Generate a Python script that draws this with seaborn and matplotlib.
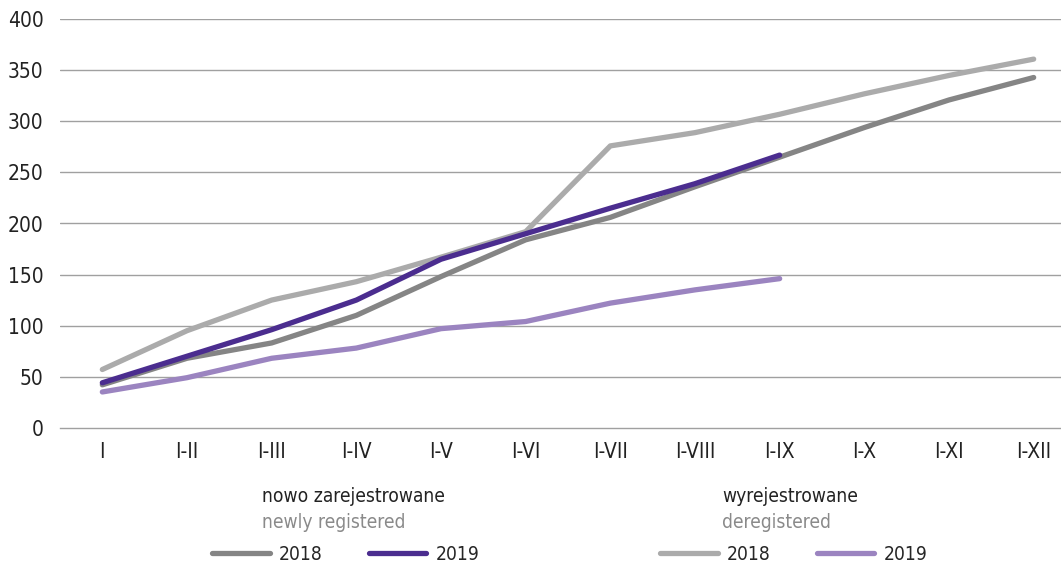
import pandas as pd
import matplotlib
matplotlib.use("Agg")
import matplotlib.pyplot as plt
import seaborn as sns
from matplotlib.ticker import FixedLocator

# data
periods = ["I", "I-II", "I-III", "I-IV", "I-V", "I-VI", "I-VII", "I-VIII",
           "I-IX", "I-X", "I-XI", "I-XII"]
new_2018 = [42, 68, 83, 110, 148, 184, 206, 236, 265, 294, 321, 343]
new_2019 = [44, 70, 96, 125, 165, 190, 215, 239, 267]
dereg_2018 = [57, 95, 125, 143, 167, 192, 276, 289, 307, 327, 345, 361]
dereg_2019 = [35, 49, 68, 78, 97, 104, 122, 135, 146]

series = {
    "dereg_2018": dereg_2018,
    "new_2018": new_2018,
    "new_2019": new_2019,
    "dereg_2019": dereg_2019,
}
colors = {
    "new_2018": "#858585",
    "new_2019": "#4b2d8f",
    "dereg_2018": "#ababab",
    "dereg_2019": "#9b84c0",
}

rows = []
for name, vals in series.items():
    for i, v in enumerate(vals):
        rows.append({"series": name, "pos": i, "value": v})
df = pd.DataFrame(rows)

sns.set_style("white")
plt.rcParams["font.family"] = ["DejaVu Sans"]
plt.rcParams["font.stretch"] = "condensed"

fig = plt.figure(figsize=(10.61, 5.64), dpi=100)
ax = fig.add_axes([60 / 1061, 136.3 / 564, 1016 / 1061, 408.4 / 564])

sns.lineplot(data=df, x="pos", y="value", hue="series", palette=colors,
             hue_order=list(series.keys()), linewidth=3.8, sort=False,
             legend=False, ax=ax, solid_capstyle="round")

ax.set_xlim(-0.5, len(periods) - 0.5)
ax.set_ylim(0, 400)
ax.set_yticks(range(0, 401, 50))
ax.set_xticks(range(len(periods)))
ax.set_xticklabels(periods)
ax.xaxis.set_minor_locator(FixedLocator([i - 0.5 for i in range(len(periods) + 1)]))
ax.set_xlabel("")
ax.set_ylabel("")

for y in range(50, 401, 50):
    ax.axhline(y, color="#a0a0a0", linewidth=1.0, zorder=0)

for s in ["top", "right", "left"]:
    ax.spines[s].set_visible(False)
ax.spines["bottom"].set_color("#a0a0a0")
ax.spines["bottom"].set_linewidth(1.0)

ax.tick_params(axis="x", which="major", length=0, pad=10, labelsize=15,
               labelcolor="#222222")
ax.tick_params(axis="x", which="minor", length=10, width=1.0, color="#a0a0a0",
               direction="out")
ax.tick_params(axis="y", length=0, pad=12, labelsize=15, labelcolor="#222222")

# legend headings
fig.text(262 / 1061, 1 - 497 / 564, "nowo zarejestrowane", fontsize=13.8,
         color="#222222", va="center", ha="left")
fig.text(262 / 1061, 1 - 522 / 564, "newly registered", fontsize=13.8,
         color="#8a8a8a", va="center", ha="left")
fig.text(722 / 1061, 1 - 497 / 564, "wyrejestrowane", fontsize=13.8,
         color="#222222", va="center", ha="left")
fig.text(722 / 1061, 1 - 522 / 564, "deregistered", fontsize=13.8,
         color="#8a8a8a", va="center", ha="left")

handles_new = [plt.Line2D([], [], color=colors["new_2018"], linewidth=3.8, solid_capstyle="round"),
               plt.Line2D([], [], color=colors["new_2019"], linewidth=3.8, solid_capstyle="round")]
handles_der = [plt.Line2D([], [], color=colors["dereg_2018"], linewidth=3.8, solid_capstyle="round"),
               plt.Line2D([], [], color=colors["dereg_2019"], linewidth=3.8, solid_capstyle="round")]

leg_kw = dict(ncol=2, frameon=False, fontsize=13.8, handlelength=3.0,
              handletextpad=0.5, columnspacing=2.4, borderpad=0,
              borderaxespad=0, loc="center left")
fig.legend(handles_new, ["2018", "2019"], bbox_to_anchor=(212 / 1061, 1 - 554 / 564), **leg_kw)
fig.legend(handles_der, ["2018", "2019"], bbox_to_anchor=(660 / 1061, 1 - 554 / 564), **leg_kw)

fig.savefig("out.png", dpi=100)
